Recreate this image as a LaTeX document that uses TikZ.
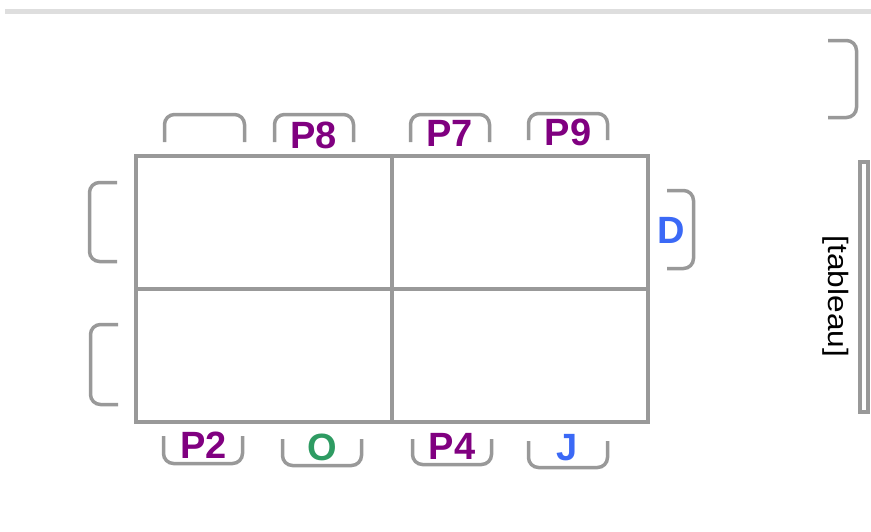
\documentclass[tikz,border=0pt]{standalone}
\usepackage{fontspec}
\setmainfont{Liberation Sans}
\usepackage{graphicx}
\definecolor{linegray}{HTML}{999999}
\definecolor{topgray}{HTML}{DEDEDE}
\definecolor{pname}{HTML}{800080}
\definecolor{oname}{RGB}{46,155,98}
\definecolor{bname}{RGB}{59,105,246}
\tikzset{
  chair/.style={draw=linegray, line width=3.5pt, rounded corners=10pt},
  tablebox/.style={draw=linegray, line width=3.5pt, rectangle, minimum width=512pt, minimum height=266pt, inner sep=0pt},
  divider/.style={draw=linegray, line width=3.5pt},
  lbl/.style={font=\fontsize{38}{38}\selectfont\bfseries, inner sep=0pt, anchor=center},
}
\begin{document}
\begin{tikzpicture}[x=1pt, y=-1pt]
\useasboundingbox (0,0) rectangle (871,531);
% top rule
\draw[topgray, line width=5pt] (5,11) -- (871,11);
% table
\node[tablebox] (table) at (392,289) {};
\coordinate (vt) at (392,156);
\coordinate (vb) at (392,422);
\coordinate (hl) at (136,289);
\coordinate (hr) at (648,289);
\draw[divider] (vt) -- (vb);
\draw[divider] (hl) -- (hr);
% top chairs
\draw[chair] (164.5,142) -- (164.5,114.5) -- (244.5,114.5) -- (244.5,142);
\draw[chair] (274.5,142) -- (274.5,114.5) -- (353.5,114.5) -- (353.5,142);
\draw[chair] (410.5,142) -- (410.5,114.5) -- (489.5,114.5) -- (489.5,142);
\draw[chair] (528.5,140) -- (528.5,113.5) -- (607.5,113.5) -- (607.5,140);
% bottom chairs
\draw[chair] (163.5,436) -- (163.5,463.5) -- (242.5,463.5) -- (242.5,436);
\draw[chair] (282.5,439) -- (282.5,465.5) -- (361.5,465.5) -- (361.5,439);
\draw[chair] (412.5,439) -- (412.5,464.5) -- (491.5,464.5) -- (491.5,439);
\draw[chair] (528.5,441) -- (528.5,467.5) -- (607.5,467.5) -- (607.5,441);
% left chairs
\draw[chair] (117,182.5) -- (89.5,182.5) -- (89.5,261.5) -- (117,261.5);
\draw[chair] (118,324.5) -- (90.5,324.5) -- (90.5,404.5) -- (118,404.5);
% right chair (D)
\draw[chair] (667,190.5) -- (693.5,190.5) -- (693.5,268.5) -- (667,268.5);
% top right bracket
\draw[chair] (828,40.5) -- (856.5,40.5) -- (856.5,117.5) -- (828,117.5);
% tableau bar
\node[draw=linegray, line width=3.5pt, fill=white, minimum width=8pt, minimum height=250pt, inner sep=0pt] (bar) at (863.75,287) {};
\node[font=\fontsize{28}{28}\selectfont, rotate=-90, inner sep=0pt] (tabtext) at (835.5,296.5) {\scalebox{1.13}[1]{[tableau]}};
% labels
\node[lbl, text=pname] (p8) at (313.5,135.5) {P8};
\node[lbl, text=pname] (p7) at (449.5,133) {P7};
\node[lbl, text=pname] (p9) at (568,132.5) {P9};
\node[lbl, text=bname] (d) at (671,230) {D};
\node[lbl, text=pname] (p2) at (203.5,445) {P2};
\node[lbl, text=oname] (o) at (322.5,447.5) {O};
\node[lbl, text=pname] (p4) at (452,446.5) {P4};
\node[lbl, text=bname] (j) at (567,447.5) {J};
\end{tikzpicture}
\end{document}
